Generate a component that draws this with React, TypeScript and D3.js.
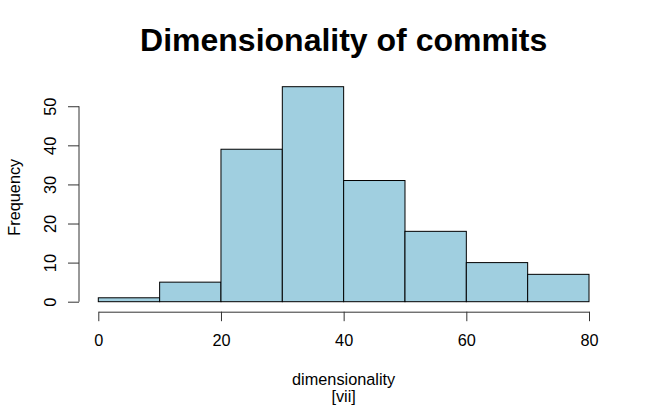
import { useEffect, useRef } from "react";
import * as d3 from "d3";

// histogram bins of dimensionality
const binStarts = [0, 10, 20, 30, 40, 50, 60, 70];
const binWidth = 10;
const counts = [1, 5, 39, 55, 31, 18, 10, 7];
const xTicks = [0, 20, 40, 60, 80];
const yTicks = [0, 10, 20, 30, 40, 50];

const title = "Dimensionality of commits";
const xLabel = "dimensionality";
const subLabel = "[vii]";
const yLabel = "Frequency";

const W = 649;
const H = 409;
const font = "'Liberation Sans', Arial, Helvetica, sans-serif";
const fs = 16.3;

export default function App() {
  const svgRef = useRef<SVGSVGElement | null>(null);

  useEffect(() => {
    const svg = d3.select(svgRef.current);
    svg.selectAll("*").remove();

    const xScale = d3.scaleLinear().domain([0, 80]).range([98.3, 589]);
    const yScale = d3.scaleLinear().domain([0, 55]).range([301.7, 86.7]);

    // bars
    svg.append("g")
      .selectAll("rect")
      .data(binStarts)
      .join("rect")
      .attr("x", (d) => xScale(d))
      .attr("y", (_d, i) => yScale(counts[i]))
      .attr("width", (d) => xScale(d + binWidth) - xScale(d))
      .attr("height", (_d, i) => yScale(0) - yScale(counts[i]))
      .attr("fill", "#a0cfe0")
      .attr("stroke", "#000")
      .attr("stroke-width", 1);

    // x axis
    const xAxis = svg.append("g")
      .attr("transform", "translate(0,311.7)")
      .call(d3.axisBottom(xScale).tickValues(xTicks).tickSize(9.5).tickPadding(13).tickSizeOuter(0));
    xAxis.select(".domain").attr("stroke", "#333");
    xAxis.selectAll(".tick line").attr("stroke", "#333");
    xAxis.selectAll("text")
      .attr("font-family", font)
      .attr("font-size", fs)
      .attr("fill", "#000");

    // y axis
    const yAxis = svg.append("g")
      .attr("transform", "translate(79,0)")
      .call(d3.axisLeft(yScale).tickValues(yTicks).tickSize(11).tickSizeOuter(0));
    yAxis.select(".domain").attr("d", `M0,${yScale(0)}V${yScale(50)}`).attr("stroke", "#333");
    yAxis.selectAll(".tick line").attr("stroke", "#333");
    yAxis.selectAll("text")
      .attr("font-family", font)
      .attr("font-size", fs)
      .attr("fill", "#000")
      .attr("x", 0)
      .attr("dy", 0)
      .attr("text-anchor", "middle")
      .attr("transform", "translate(-23,0) rotate(-90)");

    svg.append("text")
      .attr("x", (xScale(0) + xScale(80)) / 2)
      .attr("y", 51)
      .attr("text-anchor", "middle")
      .attr("font-family", font)
      .attr("font-weight", "bold")
      .attr("font-size", 32)
      .text(title);

    svg.append("text")
      .attr("x", (xScale(0) + xScale(80)) / 2)
      .attr("y", 385)
      .attr("text-anchor", "middle")
      .attr("font-family", font)
      .attr("font-size", fs)
      .text(xLabel);

    svg.append("text")
      .attr("x", (xScale(0) + xScale(80)) / 2)
      .attr("y", 402)
      .attr("text-anchor", "middle")
      .attr("font-family", font)
      .attr("font-size", fs)
      .text(subLabel);

    svg.append("text")
      .attr("transform", `translate(20,${(yScale(0) + yScale(55)) / 2 + 3}) rotate(-90)`)
      .attr("text-anchor", "middle")
      .attr("font-family", font)
      .attr("font-size", fs)
      .text(yLabel);
  }, []);

  return (
    <svg
      ref={svgRef}
      width={W}
      height={H}
      style={{ position: "absolute", left: 0, top: 0, background: "#fff" }}
    />
  );
}
